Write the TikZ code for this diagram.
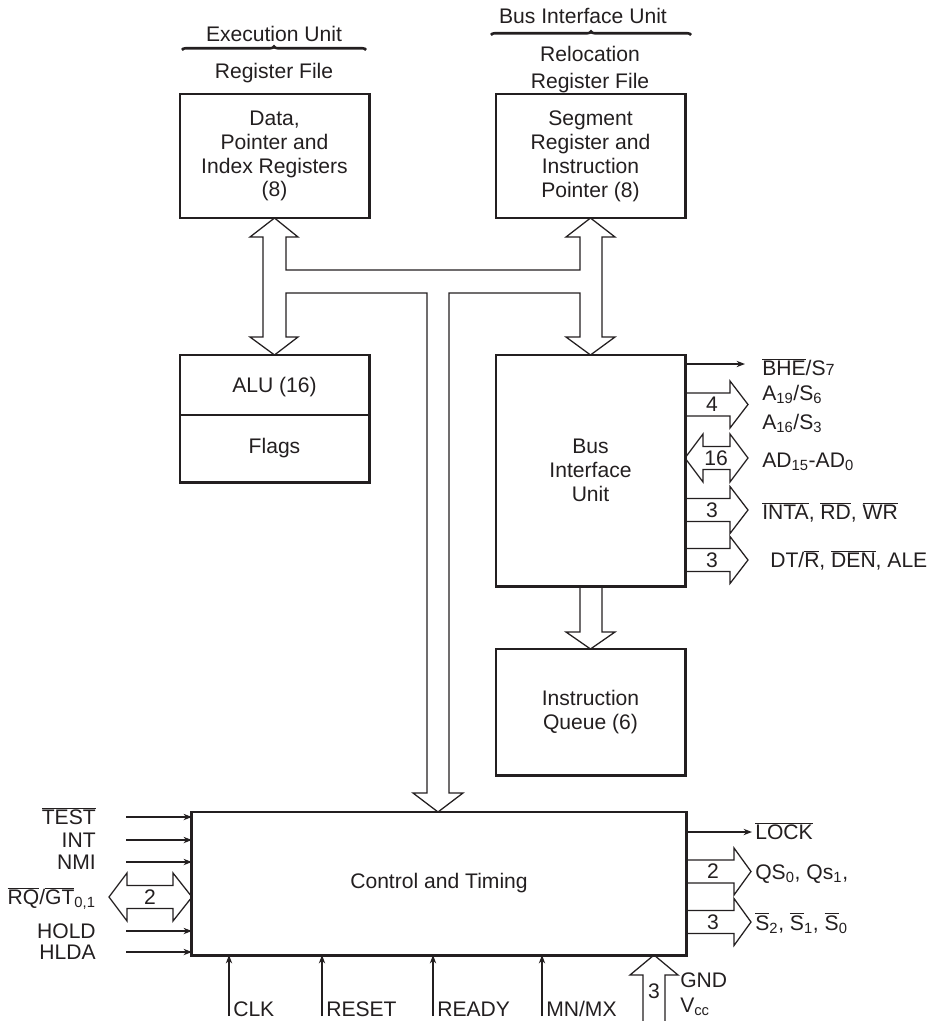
\documentclass[tikz,border=0pt]{standalone}
\usepackage{fontspec}
\setmainfont{Liberation Sans}
\usepackage{tikz}
\usetikzlibrary{arrows.meta,decorations.pathreplacing}
\definecolor{ink}{HTML}{231F20}
\newcommand{\ovl}[1]{$\overline{\hbox{#1}}$}
\newcommand{\sm}[1]{{\fontsize{11.5}{12}\selectfont #1}}
% fat one-way bus arrow: start, shaft length, head length
\newcommand{\fatout}[3]{%
  \draw[bus] (#1) ++(0,-11.5) -- ++(#2,0) -- ++(0,-12) -- ++(#3,23.5)
    -- ++(-#3,23.5) -- ++(0,-12) -- ++(-#2,0);}
\tikzset{
  every node/.style={font=\fontsize{15}{17}\selectfont,text=ink},
  unit/.style={draw=ink,line width=2.1pt,inner sep=0pt,outer sep=0pt,
               align=center,minimum width=4.725cm},
  bus/.style={draw=ink,line width=0.9pt,line join=miter},
  sig/.style={draw=ink,line width=0.9pt,-{Stealth[length=6pt,width=4.5pt]}},
  div/.style={draw=ink,line width=0.9pt},
  brc/.style={draw=ink,line width=1.8pt,decorate,decoration={brace,amplitude=2.5pt}},
  pin/.style={inner sep=0pt},
  num/.style={inner sep=0pt},
}
\begin{document}
\begin{tikzpicture}[x=0.025cm,y=-0.025cm]
\useasboundingbox (0,0) rectangle (931,1021);

% headers
\node[pin,anchor=base] (eu) at (274,41) {Execution Unit};
\draw[brc] (182,50) -- (366,50);
\node[pin,anchor=base] (erf) at (274,78.5) {Register File};
\node[pin,anchor=base] (bu) at (583,23.5) {Bus Interface Unit};
\draw[brc] (491,35) -- (691,35);
\node[pin,anchor=base] (rel) at (590,61.5) {Relocation};
\node[pin,anchor=base] (rrf) at (590,88) {Register File};

% units
\node[unit,minimum height=3.1cm] (regs) at (274.5,156) {Data,\\Pointer and\\Index Registers\\(8)};
\node[unit,minimum height=3.1cm] (segs) at (590.5,156) {Segment\\Register and\\Instruction\\Pointer (8)};
\node[unit,minimum height=3.175cm] (alu) at (274.5,418.5) {};
\node (alut) at (274.5,387) {ALU (16)};
\node (flag) at (274.5,448) {Flags};
\coordinate (aluf) at (274.5,415);
\draw[div] (aluf -| alu.west) -- (aluf -| alu.east);
\node[unit,minimum height=5.775cm] (biu) at (590.5,470.5) {Bus\\Interface\\Unit};
\node[unit,minimum height=3.15cm] (queue) at (590.5,712) {Instruction\\Queue (6)};
\node[unit,minimum width=12.35cm,minimum height=3.575cm] (ctl) at (439,883.5) {Control and Timing};

% internal bus
\draw[bus] (regs.south) -- (298,237) -- (286,237) -- (286,270) -- (580,270) -- (580,237)
  -- (566,237) -- (segs.south) -- (615,237) -- (602,237) -- (602,337) -- (615,337)
  -- (biu.north) -- (566,337) -- (580,337) -- (580,293) -- (449,293) -- (449,793)
  -- (463,793) -- (ctl.north -| 438,0) -- (413,793) -- (427,793) -- (427,293)
  -- (286,293) -- (286,337) -- (298,337) -- (alu.north) -- (250,337) -- (263,337)
  -- (263,237) -- (250,237) -- cycle;
\draw[bus] (580,586) -- (580,632) -- (566,632) -- (queue.north) -- (615,632) -- (602,632) -- (602,586);

% bus interface pins
\coordinate (bhe) at (745,364);
\draw[sig] (bhe -| biu.east) -- (bhe);
\node[pin,anchor=base west] (lbhe) at (762,375.5) {\ovl{BHE}/S\sm{7}};
\fatout{685,404.5}{45}{18}
\node[num] (na) at (712,404.5) {4};
\node[pin,anchor=base west] (la19) at (762,400) {A\textsubscript{19}/S\textsubscript{6}};
\node[pin,anchor=base west] (la16) at (762,429.5) {A\textsubscript{16}/S\textsubscript{3}};
\draw[bus] (685,458) -- (703,434) -- (703,446.5) -- (730,446.5) -- (730,434) -- (748,458)
  -- (730,482) -- (730,469.5) -- (703,469.5) -- (703,482) -- cycle;
\node[num] (nad) at (716,458) {16};
\node[pin,anchor=base west] (lad) at (762,467.5) {AD\textsubscript{15}-AD\textsubscript{0}};
\fatout{685,510}{45}{18}
\node[num] (nint) at (712,510) {3};
\node[pin,anchor=base west] (lint) at (762,519.5) {\ovl{INTA}, \ovl{RD}, \ovl{WR}};
\fatout{685,560}{45}{18}
\node[num] (ndt) at (712,560) {3};
\node[pin,anchor=base west] (ldt) at (770,567.5) {DT/\ovl{R}, \ovl{DEN}, ALE};

% control inputs, left
\foreach \nm/\yy in {test/817,int/840,nmi/862,hold/931,hlda/952}{
  \coordinate (t\nm) at (126,\yy);
  \draw[sig] (t\nm) -- (t\nm -| ctl.west);
}
\node[pin,anchor=base east] (ltest) at (96,824.5) {\ovl{TEST}};
\node[pin,anchor=base east] (lint2) at (96,847.5) {INT};
\node[pin,anchor=base east] (lnmi) at (96,869.5) {NMI};
\node[pin,anchor=base east] (lrq) at (96,904.5) {\ovl{RQ}/\ovl{GT}\textsubscript{0,1}};
\node[pin,anchor=base east] (lhold) at (96,938.5) {HOLD};
\node[pin,anchor=base east] (lhlda) at (96,959.5) {HLDA};
\draw[bus] (109,897) -- (127,873) -- (127,885.5) -- (173,885.5) -- (173,873) -- (192,897)
  -- (173,921) -- (173,908.5) -- (127,908.5) -- (127,921) -- cycle;
\node[num] (nrq) at (150,897) {2};

% control inputs, bottom
\foreach \nm/\xx/\tx in {clk/229/CLK,reset/322/RESET,ready/433/READY,mnmx/542/{MN/MX}}{
  \coordinate (b\nm) at (\xx,1016);
  \draw[sig] (b\nm) -- (b\nm |- ctl.south);
  \node[pin,anchor=base west] (l\nm) at (\xx+4,1016) {\tx};
}
\draw[bus] (643,1021) -- (643,975) -- (630,975) -- (654,955) -- (678,975) -- (665,975) -- (665,1021);
\node[num] (ngnd) at (654,991) {3};
\node[pin,anchor=base west] (lgnd) at (680,987.5) {GND};
\node[pin,anchor=base west] (lvcc) at (680,1012.5) {V\textsubscript{cc}};

% control outputs, right
\coordinate (lk) at (752,832);
\draw[sig] (lk -| ctl.east) -- (lk);
\node[pin,anchor=base west] (llock) at (755,839.5) {\ovl{LOCK}};
\fatout{686,871.5}{48}{17}
\node[num] (nqs) at (713,871.5) {2};
\node[pin,anchor=base west] (lqs) at (755,879.5) {QS\textsubscript{0}, Qs\textsubscript{1},};
\fatout{686,922}{48}{17}
\node[num] (ns) at (713,922) {3};
\node[pin,anchor=base west] (ls) at (755,930) {\ovl{S}\textsubscript{2}, \ovl{S}\textsubscript{1}, \ovl{S}\textsubscript{0}};
\end{tikzpicture}
\end{document}
